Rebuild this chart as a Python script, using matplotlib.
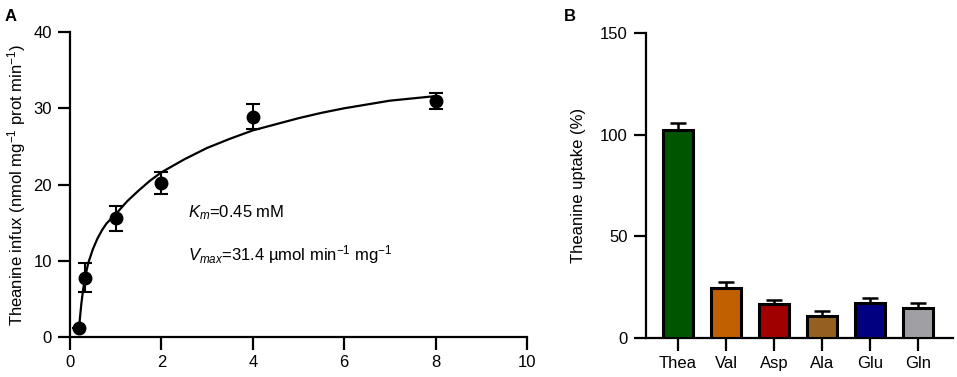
import numpy as np
import matplotlib
matplotlib.use("Agg")
import matplotlib.pyplot as plt

plt.rcParams['font.family'] = ['Liberation Sans', 'DejaVu Sans']
plt.rcParams['mathtext.fontset'] = 'custom'
plt.rcParams['mathtext.rm'] = 'Liberation Sans'
plt.rcParams['mathtext.it'] = 'Liberation Sans:italic'
plt.rcParams['mathtext.bf'] = 'Liberation Sans:bold'

# panel A - influx data
conc = [0.2, 0.33, 1, 2, 4, 8]
influx = [1.2, 7.8, 15.6, 20.2, 28.9, 30.9]
influx_err = [0, 1.9, 1.65, 1.5, 1.6, 1.05]

# fitted curve
fit_x = [0.2, 0.22, 0.25, 0.29, 0.33, 0.4, 0.5, 0.6, 0.7, 0.8, 0.9, 1.0, 1.25, 1.5,
         1.75, 2.0, 2.5, 3.0, 3.5, 4.0, 4.5, 5.0, 5.5, 6.0, 6.5, 7.0, 7.5, 8.0]
fit_y = [1.2, 2.6, 4.4, 6.3, 7.8, 9.7, 11.5, 12.9, 14.0, 14.9, 15.5, 16.1, 17.8, 19.2,
         20.5, 21.6, 23.3, 24.8, 26.0, 27.1, 27.9, 28.7, 29.4, 30.0, 30.5, 31.0, 31.3, 31.6]

# panel B - uptake
aa = ['Thea', 'Val', 'Asp', 'Ala', 'Glu', 'Gln']
uptake = [102.1, 24.4, 16.7, 11.0, 17.4, 14.6]
uptake_err = [3.6, 3.1, 1.9, 2.1, 2.4, 2.4]
bar_colors = ['#005500', '#C06000', '#A00000', '#936020', '#000080', '#A0A0A4']

fs = 12
fig = plt.figure(figsize=(9.57, 3.77), dpi=100)

# ---- A ----
ax = fig.add_axes([0.0731, 0.106, 0.4776, 0.809])
ax.plot(fit_x, fit_y, color='black', lw=1.6, zorder=2)
ax.errorbar(conc, influx, yerr=influx_err, fmt='o', color='black', ms=9,
            capsize=5, elinewidth=1.5, capthick=1.5, zorder=3)
ax.set_xlim(0, 10)
ax.set_ylim(0, 40)
ax.set_xticks([0, 2, 4, 6, 8, 10])
ax.set_yticks([0, 10, 20, 30, 40])
ax.set_ylabel('Theanine infux (nmol mg$^{-1}$ prot min$^{-1}$)', fontsize=fs, labelpad=4)
ax.text(2.58, 16.3, '$K_m$=0.45 mM', fontsize=fs, va='center')
ax.text(2.58, 10.8, '$V_{max}$=31.4 µmol min$^{-1}$ mg$^{-1}$', fontsize=fs, va='center')

# ---- B ----
bx = fig.add_axes([0.675, 0.1034, 0.3208, 0.809])
pos = np.arange(len(aa))
bx.bar(pos, uptake, width=0.64, color=bar_colors, edgecolor='black', linewidth=2.2, zorder=3)
bx.errorbar(pos, uptake, yerr=[[0] * len(aa), uptake_err], fmt='none', ecolor='black',
            capsize=6, elinewidth=1.8, capthick=1.8, zorder=2)
bx.set_xlim(-0.67, 5.73)
bx.set_ylim(0, 150)
bx.set_yticks([0, 50, 100, 150])
bx.set_xticks(pos)
bx.set_xticklabels(aa)
bx.set_ylabel('Theanine uptake (%)', fontsize=fs, labelpad=10)

for a in (ax, bx):
    for s in ('top', 'right'):
        a.spines[s].set_visible(False)
    for s in ('left', 'bottom'):
        a.spines[s].set_linewidth(1.6)
    a.tick_params(width=1.6, length=9, labelsize=fs, pad=4)

fig.text(0.005, 0.975, 'A', fontsize=12, fontweight='bold', va='top')
fig.text(0.589, 0.975, 'B', fontsize=12, fontweight='bold', va='top')

fig.savefig('out.png', dpi=100)
